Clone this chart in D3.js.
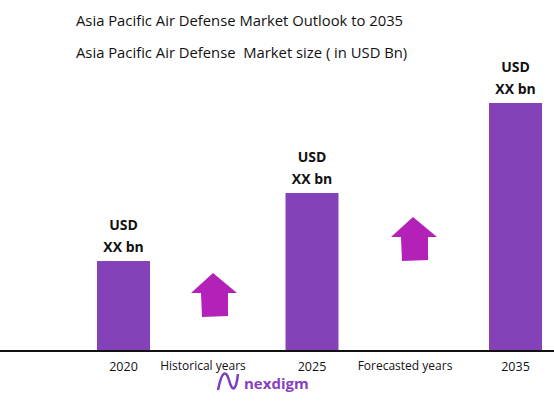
<!DOCTYPE html><html><head><meta charset="utf-8"><script src="https://cdn.jsdelivr.net/npm/d3@7"></script>
<style>body{margin:0;background:#fff}text{font-family:"Open Sans",sans-serif}</style></head><body>
<script>
const years=["2020","2025","2035"];
const values=[89,157,247];
const barLabels=["USD","XX bn"];
const periodLabels=["Historical years","Forecasted years"];
const W=554,H=416;
const svg=d3.select("body").append("svg").attr("width",W).attr("height",H);
const y=d3.scaleLinear().domain([0,250]).range([350,100]);
const x=d3.scaleOrdinal().domain(years).range([123.5,312,515.5]);
const bw=53;
svg.append("text").attr("x",76).attr("y",26).attr("font-size",14.8).attr("fill","#111").text("Asia Pacific Air Defense Market Outlook to 2035");
svg.append("text").attr("x",76).attr("y",58).attr("font-size",14.8).attr("fill","#111").attr("xml:space","preserve").text("Asia Pacific Air Defense  Market size ( in USD Bn)");
years.forEach((yr,i)=>{
  const cx=x(yr);
  svg.append("rect").attr("x",cx-bw/2).attr("y",y(values[i])).attr("width",bw).attr("height",y(0)-y(values[i])).attr("fill","#8542B8");
  barLabels.forEach((t,j)=>svg.append("text").attr("x",cx).attr("y",y(values[i])-31+j*22).attr("text-anchor","middle").attr("font-size",14).attr("font-weight","bold").attr("fill","#111").text(t));
  svg.append("text").attr("x",cx).attr("y",371).attr("text-anchor","middle").attr("font-size",12.5).attr("fill","#111").text(yr);
});
svg.append("line").attr("x1",0).attr("x2",W).attr("y1",y(0)+1).attr("y2",y(0)+1).attr("stroke","#111").attr("stroke-width",2);
function arrow(cx,top){
  const p=[[cx,top],[cx+24,top+20],[cx+15,top+20],[cx+15,top+43],[cx-11,top+44],[cx-12,top+20],[cx-22,top+20]];
  svg.append("path").attr("d",d3.line()(p)+"Z").attr("fill","#B321B8");
}
arrow(213,273);arrow(413,217);
svg.append("text").attr("x",203).attr("y",370).attr("text-anchor","middle").attr("font-size",12).attr("fill","#111").text(periodLabels[0]);
svg.append("text").attr("x",405).attr("y",370).attr("text-anchor","middle").attr("font-size",12).attr("fill","#111").text(periodLabels[1]);
svg.append("path").attr("d","M218,390 C222,370 226,370 229,380 C232,392 236,392 238,374").attr("fill","none").attr("stroke","#7a3fc0").attr("stroke-width",2.5);
svg.append("text").attr("x",244).attr("y",389).attr("font-size",15).attr("font-weight","bold").attr("fill","#8a3fc0").text("nexdigm");
</script></body></html>
